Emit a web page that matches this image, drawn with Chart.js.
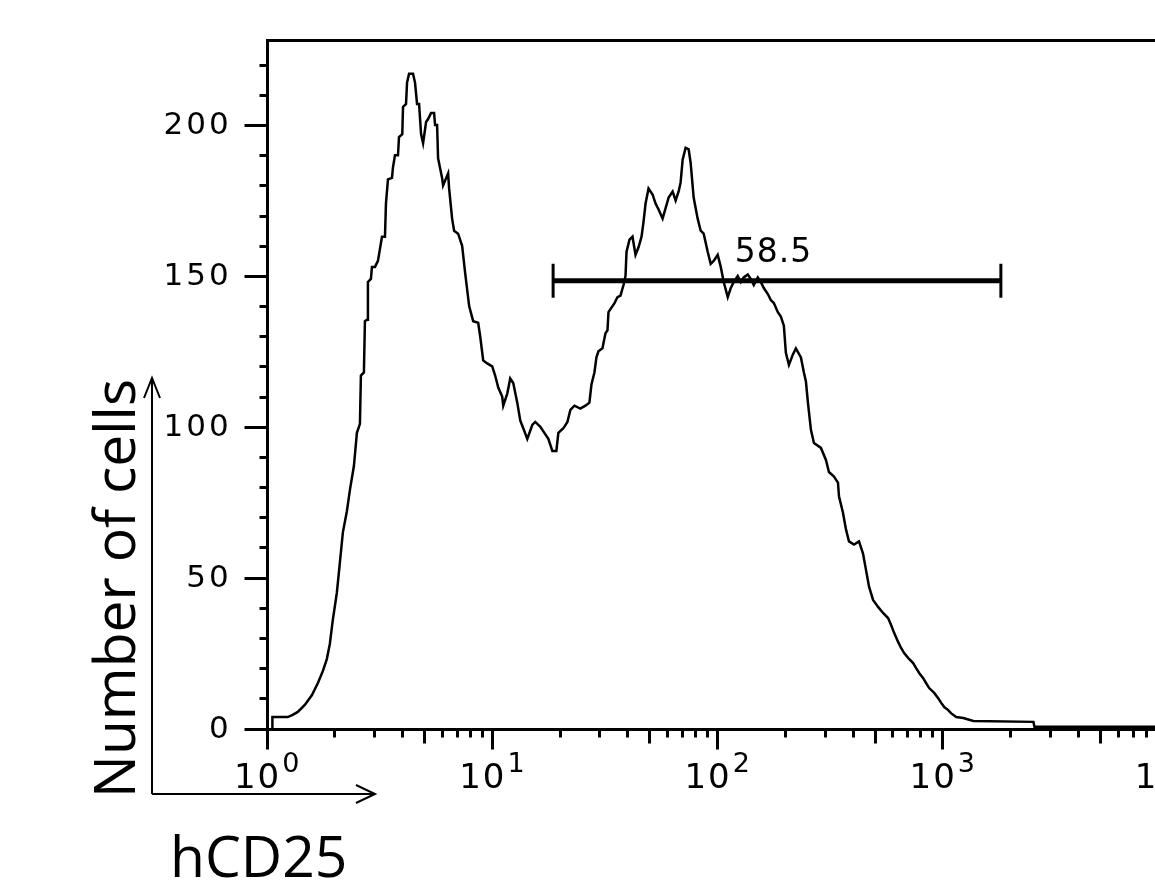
<!DOCTYPE html>
<html>
<head>
<meta charset="utf-8">
<title>hCD25 histogram</title>
<script src="https://cdn.jsdelivr.net/npm/chart.js@4.4.0/dist/chart.umd.min.js"></script>
<style>
  html, body { margin: 0; padding: 0; background: #fff; overflow: hidden; }
  #wrap { width: 1155px; height: 880px; overflow: hidden; position: relative; }
  #histo { position: absolute; left: 0; top: 0; }
</style>
</head>
<body>
<div id="wrap"><canvas id="histo" width="1200" height="880"></canvas></div>
<script>
// hCD25 fluorescence (log axis) and number of cells
const intensity = [
  1.06, 1.06, 1.24, 1.305, 1.374, 1.476, 1.586, 1.686, 1.775, 1.849,
  1.907, 1.966, 2.049, 2.113, 2.179, 2.27, 2.341, 2.439, 2.515, 2.594,
  2.62, 2.702, 2.73, 2.79, 2.815, 2.903, 2.933, 3.025, 3.119, 3.25,
  3.351, 3.385, 3.455, 3.6, 3.637, 3.712, 3.828, 3.868, 4.0, 4.03,
  4.156, 4.199, 4.286, 4.465, 4.558, 4.652, 4.749, 4.847, 4.948, 5.102,
  5.208, 5.37, 5.537, 5.594, 5.71, 5.768, 6.01, 6.072, 6.391, 6.457,
  6.657, 6.795, 7.079, 7.376, 7.606, 7.925, 8.257, 8.69, 8.87, 9.148,
  9.53, 10.03, 10.34, 10.67, 11.11, 11.23, 11.7, 12.06, 12.44, 12.96,
  13.37, 13.78, 14.36, 15.11, 15.58, 16.41, 17.1, 17.81, 18.55, 19.33,
  19.73, 20.77, 21.64, 22.31, 23.25, 24.72, 26.02, 27.1, 27.67, 28.53,
  29.12, 29.72, 30.97, 31.94, 32.6, 32.94, 34.31, 35.03, 36.12, 37.24,
  38.41, 39.2, 39.61, 40.83, 42.11, 43.42, 44.78, 46.18, 47.14, 48.12,
  49.61, 51.69, 53.31, 54.98, 57.28, 59.07, 60.91, 63.46, 65.44, 67.49,
  68.87, 70.3, 72.49, 74.76, 76.3, 78.69, 81.98, 84.54, 87.18, 90.83,
  93.65, 96.58, 100.6, 103.8, 107, 111.5, 115, 118.6, 123.5, 127.4,
  131.3, 136.8, 141.1, 145.5, 151.6, 156.3, 161.2, 168, 173.2, 178.6,
  186.1, 191.9, 197.9, 202, 208.4, 217.1, 223.8, 235.6, 242.9, 248,
  253.1, 261, 269.2, 289.1, 304.3, 313.8, 330.3, 344.1, 347.7, 362.2,
  373.5, 385.2, 405.4, 426.7, 444.6, 458.5, 472.8, 492.6, 518.5, 545.8,
  574.4, 592.4, 610.9, 636.4, 656.2, 676.8, 705.1, 742.2, 765.4, 789.3,
  822.3, 848, 874.5, 920.4, 959, 988.9, 1020, 1062, 1096, 1153,
  1239, 1373, 2539, 2565, 10000
];
const cellCount = [
  0, 3.8, 3.8, 4.5, 5.5, 7.8, 11, 15, 19, 23,
  28, 36, 45, 55, 65, 72, 79, 87, 98, 101,
  117, 118, 135, 135.5, 148, 149, 153, 153, 155, 163,
  163, 174, 182, 182.5, 186, 190, 190, 196, 197, 206,
  207, 214, 217, 217, 214, 207, 207, 197, 194, 201,
  202, 204, 204, 200, 200, 189, 182.5, 180, 184, 179,
  169, 165, 164, 160, 151, 140, 135, 134.5, 130, 122,
  121, 120, 117, 113, 110, 107, 111, 116, 114.5, 108,
  102, 99.5, 96, 100.6, 101.6, 100, 98, 96, 92, 92,
  98, 99.5, 101.6, 105.6, 107, 106, 107, 108, 114, 118,
  123, 125, 126, 131, 132, 138, 140, 141, 143, 143.5,
  147, 150, 158, 162, 163, 157, 159.5, 163, 168, 174,
  179, 177, 174, 172, 169, 172.5, 176, 178, 175, 178,
  181, 188.5, 192.5, 192, 187.5, 176, 169, 165, 164, 158,
  154, 155, 157, 153, 148, 143, 146, 148, 150, 148,
  149.5, 150.5, 149, 147, 149.5, 148, 146, 144, 142, 141,
  138, 136.5, 133.5, 124.5, 120.5, 124, 126, 123, 118, 115,
  108, 99, 94.6, 93, 89, 85, 83.5, 81.5, 77, 71.5,
  66, 62, 61, 62, 58, 52.5, 47, 42.6, 40.3, 38.3,
  36.6, 34.3, 31.7, 28.7, 26.7, 25, 23.4, 21.7, 20, 18.4,
  16.7, 15, 13.4, 11.8, 10, 8.5, 7.1, 6.1, 5, 3.8,
  3.5, 2.5, 2.2, 0.6, 0.6
];

// gate
const gateRange = [18.7, 1820];
const gateLevel = 148.4;
const gateLabel = '58.5';

// axes
const xDecades = [0, 1, 2, 3, 4];
const yMajorTicks = [0, 50, 100, 150, 200];
const yMinorStep = 10;
const yMax = 228.2;
const xTitle = 'hCD25';
const yTitle = 'Number of cells';

function drawSpaced(ctx, text, x, y, spacing, align) {
  ctx.letterSpacing = spacing + 'px';
  const w = ctx.measureText(text).width - spacing;
  let left = x;
  if (align === 'right') left = x - w;
  if (align === 'center') left = x - w / 2;
  ctx.textAlign = 'left';
  ctx.fillText(text, left, y);
  ctx.letterSpacing = '0px';
  return w;
}

function line(ctx, x1, y1, x2, y2) {
  ctx.beginPath();
  ctx.moveTo(x1, y1);
  ctx.lineTo(x2, y2);
  ctx.stroke();
}

const snap = v => Math.round(v) + 0.5;

const flowAxes = {
  id: 'flowAxes',
  afterDraw(chart) {
    const { ctx, chartArea: a } = chart;
    const x = chart.scales.x, y = chart.scales.y;
    const left = snap(a.left), bottom = snap(a.bottom), top = snap(a.top);
    ctx.save();
    ctx.strokeStyle = '#000';
    ctx.fillStyle = '#000';
    ctx.lineCap = 'butt';
    ctx.lineWidth = 3;

    // frame: left axis, top border, bottom axis
    ctx.beginPath();
    ctx.moveTo(left, bottom);
    ctx.lineTo(left, top);
    ctx.lineTo(chart.width, top);
    ctx.stroke();
    line(ctx, left, bottom, chart.width, bottom);

    // y ticks
    for (let v = 0; v <= yMax; v += yMinorStep) {
      const py = snap(y.getPixelForValue(v));
      const len = yMajorTicks.includes(v) ? 23 : 8;
      line(ctx, left - len, py, left + 1.5, py);
    }
    ctx.font = '31px "DejaVu Sans"';
    ctx.textBaseline = 'middle';
    yMajorTicks.forEach(v => {
      drawSpaced(ctx, String(v), a.left - 38, y.getPixelForValue(v) + 1, 3, 'right');
    });

    // x ticks, log decades
    xDecades.forEach(d => {
      for (let k = 1; k <= 9; k++) {
        const v = k * Math.pow(10, d);
        if (v > x.max * 1.2) break;
        const px = snap(x.getPixelForValue(v));
        const len = k === 1 ? 20 : (k === 5 ? 14 : 8);
        line(ctx, px, bottom, px, bottom + len);
      }
    });
    ctx.textBaseline = 'alphabetic';
    xDecades.forEach(d => {
      const px = x.getPixelForValue(Math.pow(10, d));
      ctx.font = '34px "DejaVu Sans"';
      ctx.letterSpacing = '2px';
      const wMain = ctx.measureText('10').width + 1;
      ctx.font = '27px "DejaVu Sans"';
      ctx.letterSpacing = '0px';
      const wSup = ctx.measureText(String(d)).width;
      const x0 = px - (wMain + wSup) / 2;
      ctx.font = '34px "DejaVu Sans"';
      drawSpaced(ctx, '10', x0, a.bottom + 59, 2, 'left');
      ctx.font = '27px "DejaVu Sans"';
      ctx.fillText(String(d), x0 + wMain, a.bottom + 43);
    });

    // gate label
    const g1 = x.getPixelForValue(gateRange[0]);
    const g2 = x.getPixelForValue(gateRange[1]);
    ctx.font = '33px "DejaVu Sans"';
    drawSpaced(ctx, gateLabel, (g1 + g2) / 2 - 4, y.getPixelForValue(gateLevel) - 19, 1, 'center');

    // arrows and titles
    const ox = 152, oy = 794;
    ctx.lineWidth = 2;
    line(ctx, ox, oy, ox, 378);
    line(ctx, ox, oy, 375, oy);
    ctx.beginPath();
    ctx.moveTo(ox - 8, 398); ctx.lineTo(ox, 378); ctx.lineTo(ox + 8, 398);
    ctx.moveTo(356, oy - 9); ctx.lineTo(375, oy); ctx.lineTo(356, oy + 9);
    ctx.stroke();

    ctx.font = '57px "Open Sans"';
    ctx.textAlign = 'left';
    ctx.fillText(xTitle, 170, 877);
    ctx.translate(135, 798);
    ctx.rotate(-Math.PI / 2);
    ctx.fillText(yTitle, 0, 0);
    ctx.restore();
  }
};

const ctx = document.getElementById('histo').getContext('2d');
new Chart(ctx, {
  type: 'line',
  data: {
    datasets: [{
      label: 'hCD25',
      data: intensity.map((v, i) => ({ x: v, y: cellCount[i] })),
      borderColor: '#000',
      borderWidth: 2.5,
      pointRadius: 0,
      tension: 0,
      fill: false
    }, {
      label: 'gate',
      data: gateRange.map(v => ({ x: v, y: gateLevel })),
      borderColor: '#000',
      borderWidth: 5,
      pointStyle: 'line',
      pointRotation: 90,
      pointRadius: 17,
      pointBorderWidth: 3,
      pointBorderColor: '#000',
      pointHoverRadius: 17,
      fill: false
    }]
  },
  options: {
    responsive: false,
    animation: false,
    layout: { padding: { left: 266.7, right: 32.5, top: 40, bottom: 151.5 } },
    plugins: { legend: { display: false }, tooltip: { enabled: false } },
    scales: {
      x: { type: 'logarithmic', min: 1, max: 10000, display: false },
      y: { type: 'linear', min: 0, max: yMax, display: false }
    }
  },
  plugins: [flowAxes]
});
</script>
</body>
</html>
